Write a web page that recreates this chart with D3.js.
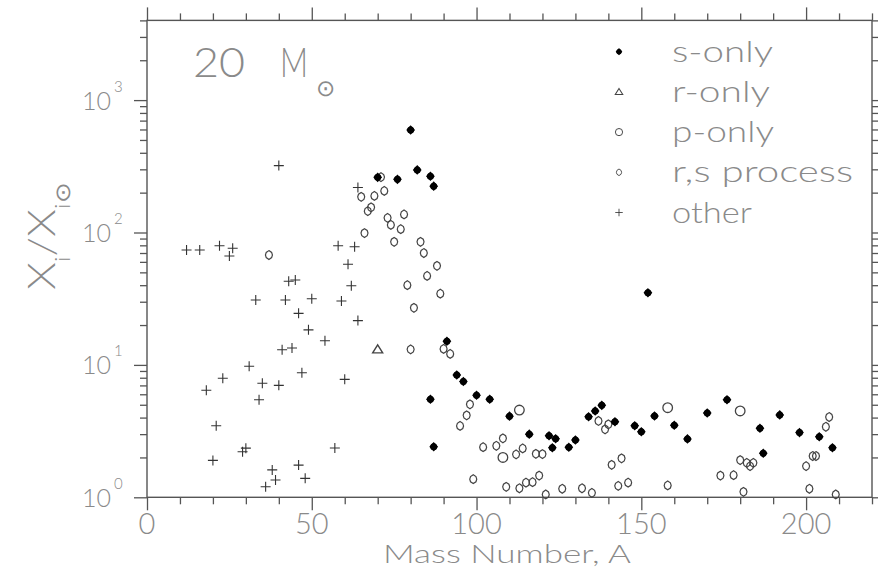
<!DOCTYPE html>
<html>
<head>
<meta charset="utf-8">
<title>20 Msun isotopic overproduction</title>
<script src="https://d3js.org/d3.v7.min.js"></script>
<style>
  body { margin: 0; background: #fff; }
  svg { display: block; }
  .lbl { font-family: Lato, "DejaVu Sans", sans-serif; font-weight: 300; fill: #8a8a8a; }
  .axis path, .axis line { stroke: #555; stroke-width: 1.3px; }
</style>
</head>
<body>
<div id="chart"></div>
<script>
// s-only nuclei
const sOnlyA = [70, 76, 80, 82, 86, 87, 91, 86, 87, 94, 96, 100, 104, 110, 116, 122, 124, 123, 128, 130,
  134, 136, 138, 142, 148, 150, 152, 154, 160, 164, 170, 176, 186, 187, 192, 198, 204, 208];
const sOnlyX = [261, 252, 594, 297, 266, 224, 15.1, 5.5, 2.41, 8.4, 7.5, 5.9, 5.5, 4.1, 3.0, 2.92, 2.77, 2.37, 2.39, 2.71,
  4.06, 4.49, 4.95, 3.72, 3.47, 3.13, 35.1, 4.11, 3.50, 2.76, 4.33, 5.46, 3.32, 2.15, 4.19, 3.08, 2.87, 2.37];

// r-only
const rOnlyA = [70];
const rOnlyX = [13.1];

// p-only
const pOnlyA = [108, 113, 158, 180];
const pOnlyX = [2.0, 4.56, 4.75, 4.49];

// r,s process
const rsA = [37, 65, 66, 67, 68, 69, 71, 72, 73, 74, 75, 77, 78, 79, 80, 81, 83, 84, 85, 88, 89, 90, 92,
  95, 97, 98, 99, 102, 106, 108, 109, 112, 113, 114, 115, 117, 118, 119, 120, 121, 126, 132, 135,
  137, 139, 140, 141, 143, 144, 146, 158, 174, 178, 180, 181, 182, 183, 184, 200, 201, 202, 203, 206, 207, 209];
const rsX = [67.6, 186, 99, 145, 155, 189, 262, 206, 129, 114, 85, 106, 137, 40, 13.1, 27, 85, 70, 47, 56, 34.5, 13.2, 12.1,
  3.46, 4.16, 5.04, 1.37, 2.39, 2.45, 2.79, 1.2, 2.11, 1.17, 2.34, 1.29, 1.30, 2.13, 1.46, 2.12, 1.05, 1.16, 1.17, 1.08,
  3.77, 3.26, 3.56, 1.76, 1.22, 1.97, 1.29, 1.23, 1.46, 1.47, 1.91, 1.10, 1.82, 1.72, 1.82, 1.72, 1.16, 2.05, 2.05, 3.41, 4.04, 1.05];

// other
const otherA = [12, 16, 22, 26, 25, 40, 33, 42, 43, 45, 46, 64, 58, 63, 61, 62, 50, 59, 64, 49, 54, 41, 44,
  31, 23, 18, 35, 40, 47, 60, 34, 21, 20, 29, 30, 38, 39, 36, 46, 48, 57];
const otherX = [73.8, 73.8, 79.5, 76, 66.5, 320, 30.9, 30.9, 42.8, 43.8, 24.5, 219, 79.5, 78.1, 57.5, 39.6, 31.6, 30.4, 21.6, 18.4, 15.2, 13.0, 13.4,
  9.77, 7.92, 6.43, 7.26, 7.01, 8.73, 7.78, 5.46, 3.47, 1.90, 2.21, 2.35, 1.61, 1.35, 1.20, 1.75, 1.39, 2.36];

const legendNames = ["s-only", "r-only", "p-only", "r,s process", "other"];
const xTickLabels = [0, 50, 100, 150, 200];
const yDecades = [0, 1, 2, 3];

const width = 878, height = 572;
const svg = d3.select("#chart").append("svg")
  .attr("width", width).attr("height", height);

const x = d3.scaleLinear().domain([0, 220]).range([147, 872]);
const y = d3.scaleLog().domain([1, 4000]).range([497.3, 497.3 - 132.4 * Math.log10(4000)]);

const xTicks = d3.range(0, 221, 10);
const yTicks = [];
yDecades.forEach(k => { for (let m = 1; m <= 9; m++) { const v = m * Math.pow(10, k); if (v <= 4000) yTicks.push(v); } });

// remove labels, set major/minor tick lengths
function styleTicks(g, isMajor, dir) {
  g.select(".domain").remove();
  g.selectAll(".tick text").remove();
  g.selectAll(".tick line").each(function(d) {
    const len = isMajor(d) ? 13 : 7;
    const l = d3.select(this);
    if (dir === "down") l.attr("y2", len);
    if (dir === "up") l.attr("y2", -len);
    if (dir === "left") l.attr("x2", -len);
    if (dir === "right") l.attr("x2", len);
  });
}
const xMajor = d => d % 50 === 0;
const yMajor = d => Math.abs(Math.log10(d) - Math.round(Math.log10(d))) < 1e-9;

svg.append("g").attr("class", "axis").attr("transform", `translate(0,${y.range()[0]})`)
  .call(d3.axisBottom(x).tickValues(xTicks).tickSizeOuter(0)).call(g => styleTicks(g, xMajor, "down"));
svg.append("g").attr("class", "axis").attr("transform", `translate(0,${y.range()[1]})`)
  .call(d3.axisTop(x).tickValues(xTicks).tickSizeOuter(0)).call(g => styleTicks(g, xMajor, "up"));
svg.append("g").attr("class", "axis").attr("transform", `translate(${x.range()[0]},0)`)
  .call(d3.axisLeft(y).tickValues(yTicks).tickSizeOuter(0)).call(g => styleTicks(g, yMajor, "left"));
svg.append("g").attr("class", "axis").attr("transform", `translate(${x.range()[1]},0)`)
  .call(d3.axisRight(y).tickValues(yTicks).tickSizeOuter(0)).call(g => styleTicks(g, yMajor, "right"));

// frame
svg.append("rect")
  .attr("x", x.range()[0]).attr("y", y.range()[1])
  .attr("width", x.range()[1] - x.range()[0]).attr("height", y.range()[0] - y.range()[1])
  .attr("fill", "none").attr("stroke", "#555").attr("stroke-width", 1.4);

// x tick labels
svg.append("g").selectAll("text").data(xTickLabels).join("text")
  .attr("class", "lbl").attr("x", d => x(d)).attr("y", 534)
  .attr("text-anchor", "middle").attr("font-size", 29)
  .text(d => d);

// y tick labels 10^k
const yl = svg.append("g").selectAll("g").data(yDecades).join("g")
  .attr("transform", d => `translate(0,${y(Math.pow(10, d))})`);
yl.append("text").attr("class", "lbl").attr("x", 111).attr("y", 9.5)
  .attr("text-anchor", "end").attr("font-size", 25).text("10");
yl.append("text").attr("class", "lbl").attr("x", 114).attr("y", -8.5)
  .attr("font-size", 15).text(d => d);

// axis titles
svg.append("text").attr("class", "lbl").attr("x", 383).attr("y", 563)
  .attr("font-size", 26).attr("textLength", 248).attr("lengthAdjust", "spacingAndGlyphs")
  .text("Mass Number, A");

const yt = svg.append("g").attr("transform", "translate(55,290) rotate(-90)");
const ytText = yt.append("text").attr("class", "lbl").attr("font-size", 38);
ytText.append("tspan").text("X");
ytText.append("tspan").attr("font-size", 21).attr("dy", 15).text("i");
ytText.append("tspan").attr("dy", -15).text("/X");
ytText.append("tspan").attr("font-size", 21).attr("dy", 15).text("i\u2299");
const ytLen = ytText.node().getComputedTextLength();
ytText.attr("transform", `scale(${108 / ytLen},1)`);

// title 20 M_sun
svg.append("text").attr("class", "lbl").attr("x", 193).attr("y", 77)
  .attr("font-size", 42).attr("textLength", 52).attr("lengthAdjust", "spacingAndGlyphs").text("20");
svg.append("text").attr("class", "lbl").attr("x", 280).attr("y", 77)
  .attr("font-size", 42).attr("textLength", 28).attr("lengthAdjust", "spacingAndGlyphs").text("M");
svg.append("text").attr("class", "lbl").attr("x", 325).attr("y", 96)
  .attr("text-anchor", "middle").attr("font-size", 23).text("\u2299");

// markers
const markers = {
  s: g => {
    g.append("path").attr("d", "M0,-4.8L4.4,0L0,4.8L-4.4,0Z").attr("fill", "#000");
    g.append("circle").attr("r", 3.5).attr("fill", "#000");
  },
  r: g => g.append("path").attr("d", "M0,-4.5L5,3.5L-5,3.5Z")
    .attr("fill", "none").attr("stroke", "#444").attr("stroke-width", 1.4),
  p: g => g.append("circle").attr("r", 4.8)
    .attr("fill", "none").attr("stroke", "#444").attr("stroke-width", 1.3),
  rs: g => g.append("path").attr("d", "M0,-4.4L2.7,-2.6L3.5,0L2.7,2.6L0,4.4L-2.7,2.6L-3.5,0L-2.7,-2.6Z")
    .attr("fill", "none").attr("stroke", "#444").attr("stroke-width", 1.2),
  o: g => g.append("path").attr("d", "M-5,0H5M0,-5V5")
    .attr("stroke", "#333").attr("stroke-width", 1.1)
};

function drawSeries(As, Xs, kind) {
  const pts = As.map((a, i) => ({ a, v: Xs[i] }));
  svg.append("g").selectAll("g").data(pts).join("g")
    .attr("transform", d => `translate(${x(d.a)},${y(d.v)})`)
    .each(function() { markers[kind](d3.select(this)); });
}
drawSeries(otherA, otherX, "o");
drawSeries(rsA, rsX, "rs");
drawSeries(pOnlyA, pOnlyX, "p");
drawSeries(rOnlyA, rOnlyX, "r");
drawSeries(sOnlyA, sOnlyX, "s");

// legend
const legendKinds = ["s", "r", "p", "rs", "o"];
const legendWidths = [101, 98, 102, 181, 80];
const lg = svg.append("g").selectAll("g").data(legendNames).join("g")
  .attr("transform", (d, i) => `translate(619,${51.7 + i * 40.2})`);
lg.each(function(d, i) {
  const m = d3.select(this).append("g").attr("transform", "scale(0.75)");
  markers[legendKinds[i]](m);
});
lg.append("text").attr("class", "lbl").attr("x", 53).attr("y", 10)
  .attr("font-size", 30).attr("textLength", (d, i) => legendWidths[i])
  .attr("lengthAdjust", "spacingAndGlyphs").text(d => d);
</script>
</body>
</html>
